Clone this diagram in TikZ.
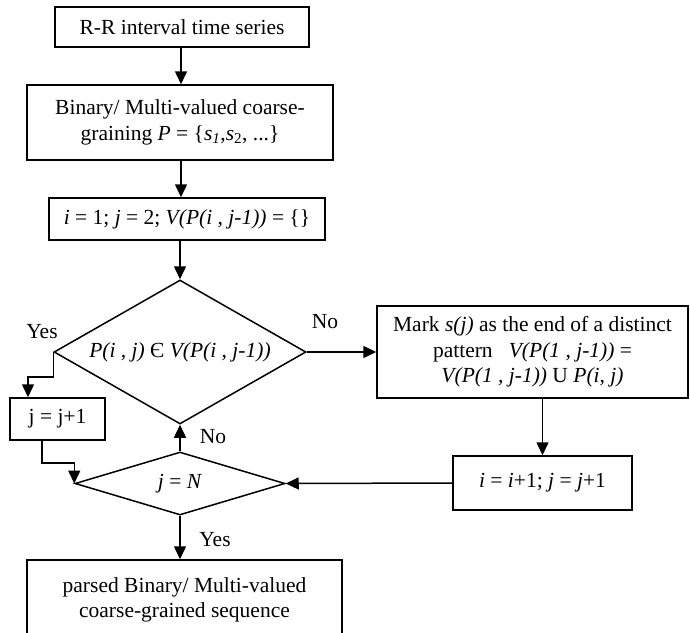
\documentclass[tikz,border=0pt]{standalone}
\usepackage{fontspec}
\setmainfont{Liberation Serif}
\usetikzlibrary{shapes.geometric,arrows.meta}

\tikzset{
  box/.style={draw, line width=1.5pt, align=center, inner sep=0pt},
  decision/.style={draw, diamond, line width=1.5pt, inner sep=0pt},
  flow/.style={line width=1.5pt, -{Triangle[length=13pt,width=12pt]}},
}

\begin{document}
\begin{tikzpicture}[x=1pt, y=-1pt, font=\fontsize{21.5}{25.5}\selectfont]
    \useasboundingbox (0,0) rectangle (690,632);

    % main column
    \node[box, minimum width=254, minimum height=40] (series) at (182,27) {R-R interval time series};
    \node[box, minimum width=306, minimum height=75] (coarse) at (180,122.5)
        {Binary/ Multi-valued coarse-\\graining \textit{P} = \{\textit{s}\textsubscript{\textit{1}},\textit{s}\textsubscript{2}, ...\}};
    \node[box, minimum width=276, minimum height=42] (init) at (187,219)
        {\textit{i} = 1; \textit{j} = 2; \textit{V(P(i , j-1))} = \{\}};

    % decisions
    \node[decision, aspect=1.75, minimum width=252, minimum height=144] (member) at (180,352)
        {\textit{P(i , j)} Є \textit{V(P(i , j-1))}};
    \node[decision, aspect=3.3, minimum width=210, minimum height=63] (last) at (180,483.5) {\textit{j} = \textit{N}};

    % side boxes
    \node[box, minimum width=95, minimum height=42] (jinc) at (57.5,419) {j = j+1};
    \node[box, minimum width=311, minimum height=92] (mark) at (532.5,352)
        {Mark \textit{s(j)} as the end of a distinct\\pattern~~ \textit{V(P(1 , j-1))} =\\\textit{V(P(1 , j-1))} U \textit{P(i, j)}};
    \node[box, minimum width=179, minimum height=54] (inc) at (542.5,483)
        {\textit{i} = \textit{i}+1; \textit{j} = \textit{j}+1};

    % result, runs off the bottom
    \node[box, minimum width=315, minimum height=80] (result) at (184.5,600)
        {parsed Binary/ Multi-valued\\coarse-grained sequence};

    % turning points
    \coordinate (yesturn) at (28,377);
    \coordinate (backturn) at (42,463);

    % connectors
    \draw[flow] (series.south -| 181,0) -- (coarse.north -| 181,0);
    \draw[flow] (coarse.south -| 181,0) -- (init.north -| 181,0);
    \draw[flow] (init.south -| member.north) -- (member.north);
    \draw[flow] (member.west) |- (yesturn) -- (yesturn |- jinc.north);
    \draw[flow] (jinc.south -| backturn) -- (backturn) -| (last.west);
    \draw[flow] (last.north) -- (member.south);
    \draw[flow] (member.east) -- (mark.west);
    \draw[flow] (mark.south -| inc.north) -- (inc.north);
    \draw[flow] (inc.west) -- (last.east);
    \draw[flow] (last.south) -- (result.north -| last.south);

    % branch labels
    \node (yes1) at (42,332) {Yes};
    \node (no1) at (325,322) {No};
    \node (no2) at (213,437) {No};
    \node (yes2) at (215,540) {Yes};
\end{tikzpicture}
\end{document}
